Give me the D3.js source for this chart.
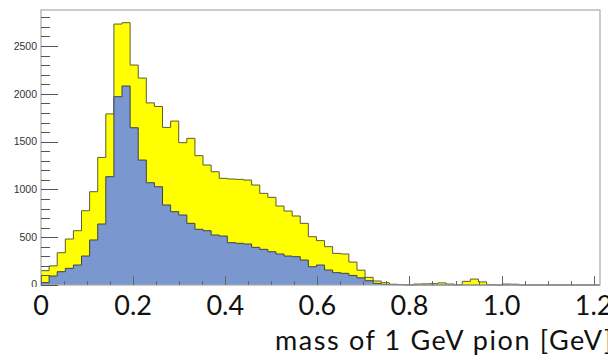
<!DOCTYPE html>
<html>
<head>
<meta charset="utf-8">
<script src="https://cdn.jsdelivr.net/npm/d3@7"></script>
<style>
  body { margin: 0; background: #fff; }
  svg { display: block; }
</style>
</head>
<body>
<svg width="608" height="362"></svg>
<script>
// histogram: 69 bins starting at 0
const binWidth = 0.01759;
const nBins = 69;

// all events (yellow)
const allCounts = [150, 200, 338, 481, 568, 777, 976, 1335, 1790, 2730,
  2744, 2301, 2165, 1905, 1868, 1649, 1715, 1489, 1534, 1353,
  1255, 1185, 1116, 1109, 1105, 1098, 1046, 959, 917, 826,
  774, 722, 645, 505, 464, 401, 331, 324, 240, 155,
  80, 42, 24, 8, 4, 0, 10, 12, 14, 22,
  10, 3, 38, 62, 32, 5, 0, 10, 8, 0,
  0, 0, 0, 0, 0, 0, 0, 0, 0];

// selected events (blue)
const selCounts = [25, 94, 139, 174, 209, 303, 471, 638, 1133, 1970,
  2082, 1645, 1307, 1070, 1028, 837, 767, 732, 645, 583,
  568, 523, 512, 443, 436, 429, 394, 373, 348, 324,
  303, 296, 261, 191, 209, 157, 129, 122, 100, 75,
  45, 17, 6, 3, 2, 0, 0, 0, 0, 0,
  0, 0, 0, 0, 0, 0, 0, 0, 0, 0,
  0, 0, 0, 0, 0, 0, 0, 0, 0];

const yTickValues = [0, 500, 1000, 1500, 2000, 2500];
const xLabelValues = [0, 0.2, 0.4, 0.6, 0.8, 1.0, 1.2];
const xLabelText = ["0", "0.2", "0.4", "0.6", "0.8", "1.0", "1.2"];
const xTitle = "mass of 1 GeV pion [GeV]";

const yMax = 2877;

const svg = d3.select("svg");
const m = { left: 41, right: 600, top: 10, bottom: 285 };

const x = d3.scaleLinear().domain([0, binWidth * nBins]).range([m.left, m.right]);
const y = d3.scaleLinear().domain([0, yMax]).range([m.bottom, m.top]);

function steps(counts) {
  const pts = counts.map((c, i) => ({ x: i * binWidth, v: c }));
  pts.push({ x: nBins * binWidth, v: counts[counts.length - 1] });
  return pts;
}

const area = d3.area()
  .curve(d3.curveStepAfter)
  .x(d => x(d.x))
  .y0(y(0))
  .y1(d => y(d.v));

const line = d3.line()
  .curve(d3.curveStepAfter)
  .x(d => x(d.x))
  .y(d => y(d.v));

// yellow
svg.append("path")
  .attr("d", area(steps(allCounts)))
  .attr("fill", "#ffff00");
svg.append("path")
  .attr("d", line(steps(allCounts)))
  .attr("fill", "none")
  .attr("stroke", "#5c5c36")
  .attr("stroke-width", 1);

// blue
svg.append("path")
  .attr("d", area(steps(selCounts)))
  .attr("fill", "#7b97cf");
svg.append("path")
  .attr("d", line(steps(selCounts)))
  .attr("fill", "none")
  .attr("stroke", "#3d4250")
  .attr("stroke-width", 1);

// frame
svg.append("rect")
  .attr("x", m.left).attr("y", m.top)
  .attr("width", m.right - m.left).attr("height", m.bottom - m.top)
  .attr("fill", "none")
  .attr("stroke", "#a8a8a8")
  .attr("stroke-width", 1.2);

// y ticks (inside, minor every 100)
const yMinor = d3.range(0, yMax, 100);
svg.append("g").selectAll("line")
  .data(yMinor)
  .join("line")
  .attr("x1", m.left)
  .attr("x2", d => m.left + (d % 500 === 0 ? 17 : 9))
  .attr("y1", d => Math.round(y(d)) + 0.5)
  .attr("y2", d => Math.round(y(d)) + 0.5)
  .attr("stroke", "#555")
  .attr("stroke-width", 1);

svg.append("g").selectAll("text")
  .data(yTickValues)
  .join("text")
  .attr("x", 37)
  .attr("y", d => y(d) - (d === 0 ? 1 : 0))
  .attr("dy", "0.35em")
  .attr("text-anchor", "end")
  .attr("font-family", "Liberation Sans, Arial, sans-serif")
  .attr("font-size", 10.5)
  .attr("fill", "#333")
  .text(d => d);

// x ticks (inside, minor every 0.05)
const xMinor = d3.range(0, 1.2001, 0.05);
svg.append("g").selectAll("line")
  .data(xMinor)
  .join("line")
  .attr("x1", d => Math.round(x(d)) + 0.5)
  .attr("x2", d => Math.round(x(d)) + 0.5)
  .attr("y1", m.bottom)
  .attr("y2", (d, i) => m.bottom - (i % 4 === 0 ? 9 : 4))
  .attr("stroke", "#666")
  .attr("stroke-width", 1);

// cover below the axis (overlaid slide labels)
svg.append("rect")
  .attr("x", 0).attr("y", 287)
  .attr("width", 608).attr("height", 75)
  .attr("fill", "#fff");

svg.append("g").selectAll("text")
  .data(xLabelValues)
  .join("text")
  .attr("x", d => x(d))
  .attr("y", 315)
  .attr("text-anchor", "middle")
  .attr("font-family", "Lato, sans-serif")
  .attr("font-size", 27)
  .attr("fill", "#111")
  .text((d, i) => xLabelText[i]);

svg.append("text")
  .attr("x", 275)
  .attr("y", 350)
  .attr("font-family", "Lato, sans-serif")
  .attr("font-size", 27)
  .attr("letter-spacing", 1.6)
  .attr("fill", "#111")
  .text(xTitle);
</script>
</body>
</html>
